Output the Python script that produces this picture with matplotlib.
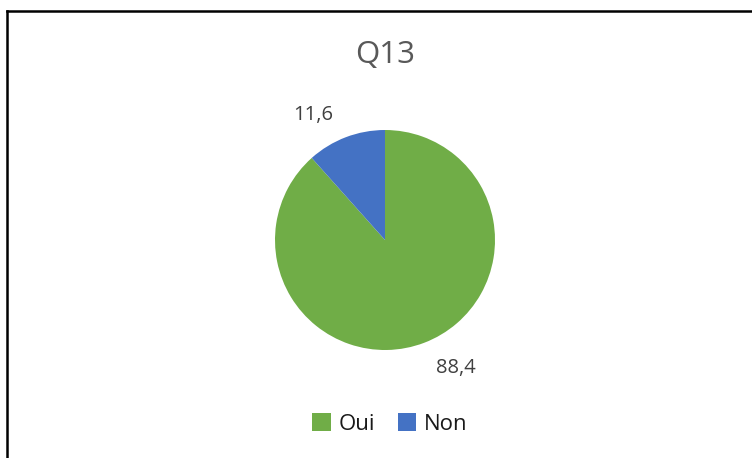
import matplotlib.pyplot as plt
from matplotlib.lines import Line2D

# Q13 answers (percent)
labels = ["Oui", "Non"]
values = [88.4, 11.6]
value_text = ["88,4", "11,6"]
colors = ["#70AD47", "#4472C4"]

W, H = 752, 458
fig = plt.figure(figsize=(W / 100, H / 100), dpi=100)
plt.rcParams["font.family"] = ["Open Sans", "DejaVu Sans"]

# pie axes: centre at (385, 240) px, radius ~110 px
cx, cy, half = 385, 240, 165
ax = fig.add_axes([(cx - half) / W, (H - cy - half) / H, 2 * half / W, 2 * half / H])
wedges, _ = ax.pie(values, colors=colors, startangle=90, counterclock=False,
                   wedgeprops=dict(linewidth=0))
ax.set_xlim(-1.5, 1.5)
ax.set_ylim(-1.5, 1.5)
ax.set_aspect("equal")
ax.axis("off")

# data labels, placed outside like Excel does
label_pos = [(0.64, -1.16), (-0.65, 1.14)]
for (x, y), t in zip(label_pos, value_text):
    ax.text(x, y, t, ha="center", va="center", fontsize=14.5, color="#404040")

fig.text(cx / W, 1 - 55 / H, "Q13", ha="center", va="center",
         fontsize=22.5, color="#595959")

fig.legend(wedges, labels, loc="center", bbox_to_anchor=(390 / W, 1 - 424 / H),
           ncol=2, frameon=False, fontsize=16, handlelength=0.85, handleheight=0.85,
           handletextpad=0.35, columnspacing=1.0, labelcolor="#1a1a1a")

# the chart-area border (only left and top visible in the crop)
fig.add_artist(Line2D([7 / W, 1], [1 - 10.5 / H, 1 - 10.5 / H], color="black",
                      lw=1.8, transform=fig.transFigure))
fig.add_artist(Line2D([7 / W, 7 / W], [0, 1 - 10.5 / H], color="black",
                      lw=1.8, transform=fig.transFigure))

fig.savefig("out.png", dpi=100, facecolor="white")
